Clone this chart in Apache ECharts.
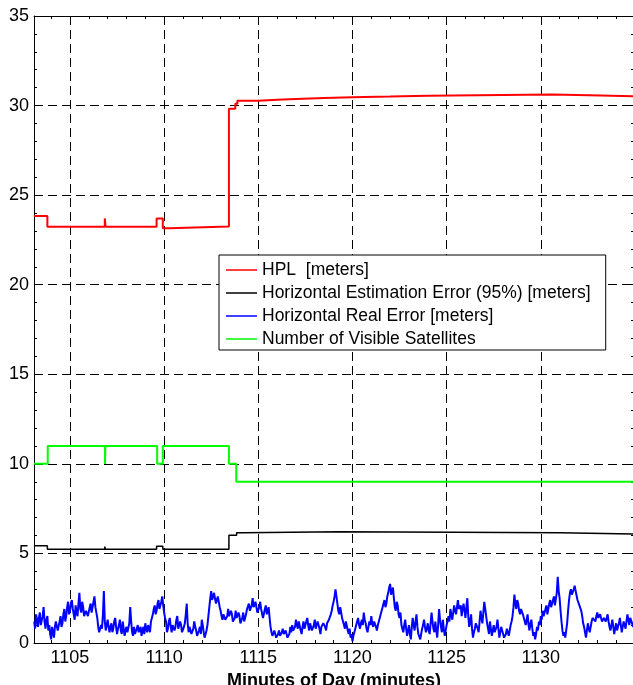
<!DOCTYPE html>
<html>
<head>
<meta charset="utf-8">
<script src="https://cdn.jsdelivr.net/npm/echarts@6/dist/echarts.min.js"></script>
<style>html,body{margin:0;padding:0;background:#fff;}#c{width:633px;height:685px;}</style>
</head>
<body>
<div id="c"></div>
<script>
// ---- data ----
const xMin = 1103.09, xMax = 1134.95;

const hplTime  = [1103.09, 1103.80, 1106.85, 1106.89, 1109.60, 1109.93, 1110.27, 1113.44, 1113.78, 1113.89, 1115.0, 1116.0, 1117.0, 1118.5, 1120.0, 1122.0, 1124.0, 1130.6, 1133.2, 1134.95];
const hplValue = [23.84, 23.23, 23.70, 23.23, 23.70, 23.15, 23.25, 29.82, 30.10, 30.27, 30.32, 30.37, 30.42, 30.46, 30.50, 30.55, 30.62, 30.56, 30.52, 30.52];

const estTime  = [1103.09, 1103.80, 1106.85, 1106.89, 1109.60, 1109.93, 1113.44, 1113.85, 1114.2, 1119.3, 1125.3, 1131.0, 1134.95];
const estValue = [5.43, 5.24, 5.38, 5.24, 5.40, 5.24, 6.01, 6.15, 6.21, 6.18, 6.15, 6.08, 6.08];

const satTime  = [1103.09, 1103.82, 1106.86, 1106.88, 1109.63, 1109.93, 1113.44, 1113.83, 1134.95];
const satValue = [10, 11, 10, 11, 10, 11, 10, 9, 9];

// Horizontal real error, one reading every 0.05 min from 1103.1
const realStart = 1103.1, realStep = 0.05;
const realValue = [
  1.2,0.8,1.6,1.3,0.9,1.4,1.7,1.0,1.1,1.5,2.0,1.2,0.8,1.3,1.5,0.7,1.0,0.5,
  0.2,0.9,0.6,0.3,0.9,1.2,
  1.3,0.7,0.8,1.2,1.5,0.9,1.1,1.6,
  1.9,1.2,1.5,2.0,2.3,1.6,1.8,2.2,2.4,1.9,
  1.6,1.3,2.1,1.7,1.5,2.2,2.8,1.9,1.7,2.3,2.0,1.5,1.4,1.8,1.9,1.5,1.6,2.0,2.2,1.7,1.8,2.3,2.6,2.0,2.1,1.4,
  0.9,0.6,0.5,1.0,0.8,1.6,
  2.9,1.2,
  0.7,1.0,1.3,0.9,0.6,0.9,1.1,0.6,0.8,1.2,1.4,0.9,0.5,0.8,1.0,1.3,0.7,0.5,1.2,0.8,0.4,0.7,0.9,0.6,
  0.5,1.1,2.0,1.2,0.6,0.4,
  0.9,0.5,0.6,0.8,1.0,0.6,0.7,0.9,0.4,0.7,0.9,0.5,1.1,0.8,0.6,1.0,0.8,0.6,1.2,1.4,
  1.6,1.9,2.1,1.6,1.8,2.2,2.4,1.9,2.0,2.3,2.6,2.1,1.7,1.4,1.2,0.6,
  0.8,1.2,1.4,0.9,0.6,1.0,1.1,0.7,0.9,1.3,1.5,0.8,0.7,1.2,1.0,0.6,0.5,0.9,1.1,1.6,
  2.2,1.1,
  0.6,0.9,1.0,0.5,0.4,0.8,1.2,0.9,0.7,0.4,0.3,0.7,0.9,0.5,1.3,1.0,0.6,0.3,0.2,0.7,1.0,1.5,
  2.0,2.5,2.9,2.4,2.3,2.8,2.7,2.2,2.1,2.6,2.5,2.0,1.8,1.5,
  1.3,1.6,1.7,1.3,1.2,1.5,1.9,1.5,1.4,1.8,1.6,1.2,1.1,1.4,1.8,1.4,1.3,1.7,1.5,1.1,1.0,1.4,1.7,1.2,1.4,1.6,1.9,2.0,
  2.2,1.8,1.7,2.1,2.5,2.0,1.9,2.3,2.0,1.7,1.6,2.0,2.3,1.9,1.8,1.4,1.5,1.9,2.1,1.6,1.7,2.0,1.4,0.9,
  0.6,0.4,0.3,0.7,0.5,0.3,0.2,0.5,
  0.7,0.4,0.3,0.6,0.8,0.5,0.4,0.7,0.6,0.3,0.2,0.5,0.9,0.6,
  1.0,0.7,0.6,0.9,1.3,1.0,0.8,1.2,1.1,0.7,0.5,0.9,1.2,0.8,0.9,1.2,1.4,1.0,0.7,1.1,1.0,0.7,0.6,1.0,1.3,0.8,0.9,1.2,1.1,0.8,0.5,0.9,0.8,1.1,1.2,0.9,0.7,1.1,1.0,1.3,1.4,1.6,1.8,2.1,2.3,2.6,
  3.0,2.6,
  2.2,1.8,1.6,2.0,1.9,1.4,1.2,1.0,0.8,1.2,1.1,0.7,0.5,0.8,0.3,0.5,0.1,0.4,0.6,0.8,
  1.0,1.2,1.4,1.0,0.8,1.1,1.3,1.0,1.7,1.3,1.1,0.8,0.6,0.9,1.2,1.0,1.5,1.1,0.9,1.2,1.3,0.9,0.7,1.0,1.1,1.4,1.6,1.8,
  2.0,2.2,2.4,2.0,2.2,2.6,2.8,3.1,3.3,2.7,2.9,3.1,
  2.5,2.0,1.8,2.3,2.1,1.6,1.4,1.7,1.0,0.8,
  0.6,1.0,1.3,0.8,0.4,0.7,1.0,0.5,0.2,0.9,1.4,1.0,0.7,1.2,1.6,0.9,0.5,0.4,
  0.2,0.5,0.8,1.0,1.3,0.9,0.6,0.8,1.1,0.7,
  0.5,1.1,1.7,1.2,0.8,0.6,1.2,0.7,0.3,1.0,1.9,1.3,0.9,0.6,1.3,0.8,0.4,0.7,1.0,1.2,
  1.5,1.2,1.9,1.6,1.3,1.7,2.1,1.8,1.6,2.0,2.4,1.9,1.8,2.1,1.5,1.9,2.2,1.8,
  1.4,2.0,2.5,1.5,0.9,1.2,1.6,0.8,0.3,0.6,0.8,1.1,1.2,0.8,0.6,1.2,1.8,1.4,1.1,1.7,2.3,1.9,1.5,1.1,
  0.8,0.5,1.2,0.8,0.4,0.7,1.0,0.6,0.6,0.9,1.3,0.8,0.3,0.6,0.9,0.7,
  0.5,0.3,0.2,0.5,0.8,0.6,0.4,0.7,1.0,1.2,
  1.5,2.0,2.7,2.2,1.9,2.4,2.2,1.8,1.6,1.9,2.0,1.6,1.4,1.2,
  1.0,1.3,1.6,1.0,0.7,1.1,1.3,0.8,0.4,0.6,0.2,0.5,0.9,0.7,1.2,1.0,1.5,1.3,
  1.8,1.5,1.4,1.9,2.1,1.6,1.7,2.2,2.4,2.0,1.9,2.4,2.6,2.1,2.2,2.8,3.7,2.9,2.5,1.8,
  1.2,0.7,0.4,0.6,0.3,0.7,1.1,1.8,
  2.4,2.8,3.0,2.7,2.6,3.0,3.2,2.9,2.8,2.4,2.5,2.1,2.2,1.8,
  1.5,1.1,0.9,0.6,0.3,0.7,1.1,0.8,0.6,0.9,1.2,1.4,
  1.5,1.3,1.2,1.5,1.7,1.4,1.3,1.6,1.6,1.2,1.1,1.4,1.5,1.2,1.4,1.6,1.2,0.9,
  0.7,1.0,1.3,0.9,0.5,0.8,1.1,0.7,0.8,1.1,1.4,1.0,0.6,0.9,
  1.2,1.0,0.8,1.2,1.6,1.3,1.0,1.4,1.5,1.1,0.9
];

const seriesNames = ['HPL  [meters]', 'Horizontal Estimation Error (95%) [meters]', 'Horizontal Real Error [meters]', 'Number of Visible Satellites'];

// ---- build ----
const zip = (t, v) => t.map((x, i) => [x, v[i]]);
const realData = realValue.map((v, i) => [+(realStart + i * realStep).toFixed(3), v]);

const FONT = 'Liberation Sans, Arial, sans-serif';
const dash = { color: '#000', width: 1, type: [9, 5] };
const plain = v => String(Math.round(v));

const chart = echarts.init(document.getElementById('c'), null, { renderer: 'canvas' });
chart.setOption({
  animation: false,
  backgroundColor: '#fff',
  grid: { left: 34, top: 16, right: -1, bottom: 42, containLabel: false, outerBoundsMode: 'none' },
  xAxis: [{
    type: 'value', min: xMin, max: xMax, splitNumber: 5,
    name: 'Minutes of Day (minutes)', nameLocation: 'middle', nameGap: 18,
    nameTextStyle: { fontFamily: FONT, fontSize: 18, fontWeight: 'bold', color: '#000' },
    axisLine: { show: true, onZero: false, lineStyle: { color: '#000', width: 1 } },
    axisTick: { show: true, inside: true, length: 6, lineStyle: { color: '#000' } },
    minorTick: { show: true, splitNumber: 5, length: 3, lineStyle: { color: '#000' } },
    axisLabel: { fontFamily: FONT, fontSize: 18, color: '#000', margin: 6, showMinLabel: false, showMaxLabel: false, formatter: plain },
    splitLine: { show: true, lineStyle: dash }
  }, {
    type: 'value', min: xMin, max: xMax, splitNumber: 5, position: 'top',
    axisLine: { show: true, onZero: false, lineStyle: { color: '#000', width: 1 } },
    axisTick: { show: true, inside: true, length: 6, lineStyle: { color: '#000' } },
    minorTick: { show: true, splitNumber: 5, length: 3, lineStyle: { color: '#000' } },
    axisLabel: { show: false }, splitLine: { show: false }
  }],
  yAxis: [{
    type: 'value', min: 0, max: 35, interval: 5,
    axisLine: { show: true, onZero: false, lineStyle: { color: '#000', width: 1 } },
    axisTick: { show: true, inside: true, length: 6, lineStyle: { color: '#000' } },
    minorTick: { show: true, splitNumber: 5, length: 3, lineStyle: { color: '#000' } },
    axisLabel: { fontFamily: FONT, fontSize: 18, color: '#000', margin: 5, formatter: plain },
    splitLine: { show: true, lineStyle: dash }
  }, {
    type: 'value', min: 0, max: 35, interval: 5, position: 'right',
    axisLine: { show: true, onZero: false, lineStyle: { color: '#000', width: 1 } },
    axisTick: { show: true, inside: true, length: 6, lineStyle: { color: '#000' } },
    minorTick: { show: true, splitNumber: 5, length: 3, lineStyle: { color: '#000' } },
    axisLabel: { show: false }, splitLine: { show: false }
  }],
  legend: {
    left: 219, top: 255, orient: 'vertical',
    data: seriesNames.map(n => ({ name: n, icon: 'rect' })),
    backgroundColor: '#fff', borderColor: '#000', borderWidth: 1, borderRadius: 0,
    padding: [6, 15, 2, 7],
    itemWidth: 31, itemHeight: 1.5, itemGap: 5,
    textStyle: { fontFamily: FONT, fontSize: 17.5, lineHeight: 16, color: '#000', padding: [0, 0, 0, 0] },
    selectedMode: false
  },
  series: [
    { name: seriesNames[2], type: 'line', data: realData, symbol: 'none', color: '#0000ff',
      lineStyle: { width: 2, color: '#0000ff' }, z: 2 },
    { name: seriesNames[1], type: 'line', step: 'end', data: zip(estTime, estValue), symbol: 'none', color: '#000',
      lineStyle: { width: 1.5, color: '#000' }, z: 3 },
    { name: seriesNames[3], type: 'line', step: 'end', data: zip(satTime, satValue), symbol: 'none', color: '#00ff00',
      lineStyle: { width: 2, color: '#00ff00' }, z: 3 },
    { name: seriesNames[0], type: 'line', step: 'end', data: zip(hplTime, hplValue), symbol: 'none', color: '#ff0000',
      lineStyle: { width: 2, color: '#ff0000' }, z: 4 }
  ]
});
</script>
</body>
</html>
